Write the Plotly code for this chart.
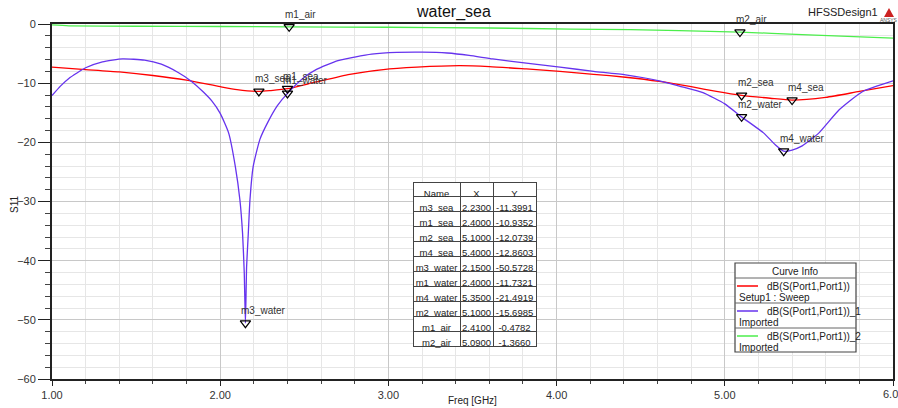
import plotly.graph_objects as go

# ---------------- data ----------------
freq_sea = [1.0, 1.2, 1.4, 1.6, 1.8, 2.0, 2.1, 2.23, 2.3, 2.4, 2.57, 2.77, 2.97, 3.17,
            3.42, 3.6, 3.82, 4.02, 4.22, 4.41, 4.61, 4.8, 4.95, 5.1, 5.27, 5.4, 5.6, 5.8, 6.0]
s11_sea = [-7.3, -7.7, -8.1, -8.7, -9.5, -10.6, -11.1, -11.4, -11.25, -10.94, -9.8, -8.5, -7.7, -7.3,
           -7.05, -7.2, -7.6, -8.0, -8.5, -9.0, -9.7, -10.6, -11.4, -12.07, -12.55, -12.86, -12.4, -11.4, -10.4]

freq_water = [1.0, 1.05, 1.1, 1.2, 1.3, 1.42, 1.55, 1.65, 1.75, 1.83, 1.9, 1.95, 2.0, 2.05,
              2.09, 2.117, 2.133, 2.143, 2.15, 2.157, 2.167, 2.177, 2.196, 2.236, 2.285, 2.34,
              2.4, 2.5, 2.57, 2.7, 2.8, 2.9, 3.05, 3.2, 3.35, 3.48, 3.62, 3.82, 4.02, 4.22,
              4.41, 4.61, 4.73, 4.87, 5.0, 5.1, 5.23, 5.3, 5.35, 5.4, 5.46, 5.56, 5.68, 5.82, 6.0]
s11_water = [-12.1, -10.5, -9.2, -7.4, -6.4, -5.9, -6.1, -6.8, -8.2, -9.7, -11.5, -13.0, -15.1, -18.4,
             -24.1, -29.7, -35.4, -42.0, -50.57, -41.0, -35.4, -29.7, -24.1, -19.5, -16.5, -13.8,
             -11.73, -9.0, -7.7, -6.2, -5.6, -5.1, -4.8, -4.75, -4.9, -5.3, -5.9, -6.6, -7.3, -8.0,
             -8.6, -9.6, -10.5, -11.6, -13.5, -15.7, -18.4, -20.4, -21.49, -21.3, -20.6, -18.4, -14.5, -11.4, -9.6]

freq_air = [1.0, 1.1, 1.5, 2.0, 2.41, 3.0, 3.6, 4.08, 4.44, 4.73, 5.09, 5.46, 6.0]
s11_air = [-0.15, -0.3, -0.38, -0.42, -0.478, -0.55, -0.68, -0.85, -0.96, -1.13, -1.366, -1.8, -2.4]

marker_names = ["m3_sea", "m1_sea", "m2_sea", "m4_sea", "m3_water", "m1_water",
                "m4_water", "m2_water", "m1_air", "m2_air"]
marker_x = [2.23, 2.40, 5.10, 5.40, 2.15, 2.40, 5.35, 5.10, 2.41, 5.09]
marker_y = [-11.3991, -10.9352, -12.0739, -12.8603, -50.5728, -11.7321,
            -21.4919, -15.6985, -0.4782, -1.3660]

legend_lines = ["dB(S(Port1,Port1))", "dB(S(Port1,Port1))_1", "dB(S(Port1,Port1))_2"]
legend_sub = ["Setup1 : Sweep", "Imported", "Imported"]

# ---------------- styling ----------------
W, H = 898, 408
ML, MR, MT, MB = 52, 5, 24, 29
PW, PH = W - ML - MR, H - MT - MB
FONT = "Liberation Sans, Arial, sans-serif"
RED, BLUE, GREEN = "#ff0000", "#6633ee", "#4cee4c"


def px(x):
    return (x - ML) / PW


def py(y):
    return (H - MB - y) / PH


fig = go.Figure()
fig.add_trace(go.Scatter(x=freq_sea, y=s11_sea, mode="lines", line=dict(color=RED, width=1.3, shape="spline", smoothing=0.6)))
fig.add_trace(go.Scatter(x=freq_water, y=s11_water, mode="lines", line=dict(color=BLUE, width=1.3, shape="spline", smoothing=0.5)))
fig.add_trace(go.Scatter(x=freq_air, y=s11_air, mode="lines", line=dict(color=GREEN, width=1.3, shape="spline", smoothing=0.6)))
fig.add_trace(go.Scatter(x=marker_x, y=marker_y, mode="markers",
                         marker=dict(symbol="triangle-down-open", size=9, color="black", line=dict(width=1.2))))

# table of marker values
fig.add_trace(go.Table(
    domain=dict(x=[px(413), px(536)], y=[py(375), py(182)]),
    columnwidth=[47, 33, 43],
    header=dict(values=["Name", "X", "Y"], fill_color="white", line=dict(color="#444", width=1),
                font=dict(family=FONT, size=9.5, color="#222"), align="center", height=14),
    cells=dict(values=[marker_names, ["%.4f" % v for v in marker_x], ["%.4f" % v for v in marker_y]],
               fill_color="white", line=dict(color="#444", width=1),
               font=dict(family=FONT, size=9.5, color="#222"), align="center", height=15),
))

annotations = []
for lab, x, y in zip(marker_names, marker_x, marker_y):
    annotations.append(dict(x=x, y=y, xref="x", yref="y", text=lab, showarrow=False,
                            xanchor="left", yanchor="bottom", xshift=-6, yshift=5,
                            font=dict(family=FONT, size=10, color="#333")))

# last x tick label (cut by the right edge, as in the original)
annotations.append(dict(x=6, y=py(394), xref="x", yref="paper", text="6.00", showarrow=False,
                        xanchor="center", yanchor="middle", font=dict(family=FONT, size=11, color="#333")))

annotations.append(dict(x=px(453), y=py(12), xref="paper", yref="paper", text="water_sea", showarrow=False,
                        xanchor="center", yanchor="middle", font=dict(family=FONT, size=16, color="#111")))
annotations.append(dict(x=px(806), y=py(12), xref="paper", yref="paper", text="HFSSDesign1", showarrow=False,
                        xanchor="left", yanchor="middle", font=dict(family=FONT, size=11, color="#222")))
annotations.append(dict(x=px(889), y=py(20), xref="paper", yref="paper", text="ANSYS", showarrow=False,
                        xanchor="center", yanchor="middle", font=dict(family=FONT, size=5, color="#555")))
annotations.append(dict(x=px(472), y=py(400), xref="paper", yref="paper", text="Freq [GHz]", showarrow=False,
                        xanchor="center", yanchor="middle", font=dict(family=FONT, size=10, color="#222")))
annotations.append(dict(x=px(14), y=py(205), xref="paper", yref="paper", text="S11", showarrow=False,
                        textangle=-90, xanchor="center", yanchor="middle", font=dict(family=FONT, size=10, color="#222")))

# curve info box
annotations.append(dict(x=px(795), y=py(271), xref="paper", yref="paper", text="Curve Info", showarrow=False,
                        xanchor="center", yanchor="middle", font=dict(family=FONT, size=10, color="#222")))
shapes = [
    dict(type="rect", xref="paper", yref="paper", x0=px(735), x1=px(856), y0=py(352), y1=py(263),
         fillcolor="white", line=dict(color="#444", width=1.2)),
]
for yy in (278, 303, 328):
    shapes.append(dict(type="line", xref="paper", yref="paper", x0=px(735), x1=px(856), y0=py(yy), y1=py(yy),
                       line=dict(color="#666", width=1)))
cols = [RED, BLUE, GREEN]
for i, (t1, t2) in enumerate(zip(legend_lines, legend_sub)):
    ly = 286 + 25 * i
    shapes.append(dict(type="line", xref="paper", yref="paper", x0=px(737), x1=px(758), y0=py(ly), y1=py(ly),
                       line=dict(color=cols[i], width=1.5)))
    annotations.append(dict(x=px(765), y=py(ly), xref="paper", yref="paper", text=t1, showarrow=False,
                            xanchor="left", yanchor="middle", font=dict(family=FONT, size=10, color="#222")))
    annotations.append(dict(x=px(737), y=py(ly + 11), xref="paper", yref="paper", text=t2, showarrow=False,
                            xanchor="left", yanchor="middle", font=dict(family=FONT, size=10, color="#222")))

# small ANSYS logo triangle
shapes.append(dict(type="path", xref="paper", yref="paper",
                   path="M %f %f L %f %f L %f %f Z" % (px(884), py(17), px(889), py(8), px(894), py(17)),
                   fillcolor="#cc2222", line=dict(width=0)))

fig.update_layout(
    width=W, height=H, margin=dict(l=ML, r=MR, t=MT, b=MB, autoexpand=False),
    paper_bgcolor="white", plot_bgcolor="white", showlegend=False,
    font=dict(family=FONT, size=11, color="#333"),
    annotations=annotations, shapes=shapes,
    xaxis=dict(range=[1, 6], dtick=1, tickformat=".2f", showgrid=True, gridcolor="#c8c8c8", gridwidth=1.3,
               zeroline=False, showline=True, linecolor="#222", linewidth=2, mirror=True, automargin=False,
               ticks="outside", ticklen=5, tickcolor="#222",
               minor=dict(dtick=0.2, ticklen=3, tickcolor="#444", showgrid=True, gridcolor="#e6e6e6", gridwidth=1),
               tickfont=dict(family=FONT, size=11, color="#333")),
    yaxis=dict(range=[-60, 0], dtick=10, showgrid=True, gridcolor="#c8c8c8", gridwidth=1.3,
               zeroline=False, showline=True, linecolor="#222", linewidth=2, mirror=True, automargin=False,
               ticks="outside", ticklen=12, tickcolor="#222",
               minor=dict(dtick=2, ticklen=5, tickcolor="#444", showgrid=True, gridcolor="#e6e6e6", gridwidth=1),
               tickfont=dict(family=FONT, size=11, color="#333")),
)

fig.write_html("out.html", config={"displayModeBar": False},
               post_script="document.body.style.margin='0';document.body.style.padding='0';")
